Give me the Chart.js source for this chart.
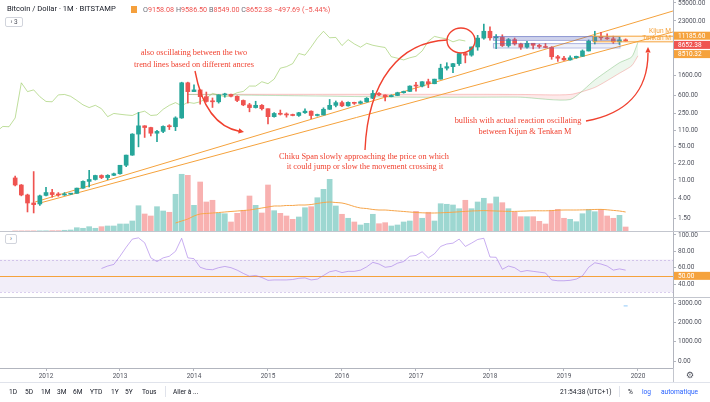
<!DOCTYPE html>
<html>
<head>
<meta charset="utf-8">
<title>Bitcoin / Dollar 1M</title>
<script src="https://cdn.jsdelivr.net/npm/chart.js@4.4.1/dist/chart.umd.min.js"></script>
<style>
  html, body { margin: 0; padding: 0; background: #fff; }
  body { position: relative; width: 710px; height: 402px; overflow: hidden; font-family: Roboto, sans-serif; color: #131722; }
  canvas { position: absolute; left: 0; }
  #price { top: 0; }
  #rsi { top: 232px; }
  #extra { top: 298px; }
  .abs { position: absolute; white-space: nowrap; line-height: 1; }
  .rule { position: absolute; background: #c3c6ce; }
  .tb { position: absolute; top: 388px; font-size: 6.6px; color: #131722; white-space: nowrap; }
  .blue { color: #2962ff; }
  .btn { position: absolute; border: 1px solid #d1d4dc; border-radius: 2px; font-size: 6.5px; color: #50535e; text-align: center; line-height: 8px; background: #fff; }
</style>
</head>
<body>
<canvas id="price" width="710" height="231"></canvas>
<canvas id="rsi" width="710" height="65"></canvas>
<canvas id="extra" width="710" height="84"></canvas>

<div class="rule" style="left:0;top:231px;width:710px;height:1px"></div>
<div class="rule" style="left:0;top:297px;width:710px;height:1px"></div>
<div class="rule" style="left:673px;top:368px;width:1px;height:14px"></div>
<div class="rule" style="left:0;top:382px;width:710px;height:1px;background:#e0e3eb"></div>

<div class="abs" style="left:7px;top:5px;font-size:7.6px;color:#131722">Bitcoin / Dollar · 1M · BITSTAMP</div>
<div class="abs" style="left:131px;top:6px;width:6px;height:7px;background:#f5a03c"></div>
<div class="abs" style="left:143px;top:5.5px;font-size:7.2px;color:#ef5350"><span style="color:#6b6e78">O</span>9158.08 <span style="color:#6b6e78">H</span>9586.50 <span style="color:#6b6e78">B</span>8549.00 <span style="color:#6b6e78">C</span>8652.38 −497.69 (−5.44%)</div>
<div class="btn" style="left:5px;top:17px;width:16px;height:8px">› 3</div>
<div class="btn" style="left:5px;top:234px;width:10px;height:8px">›</div>

<div class="tb" style="left:9px">1D</div>
<div class="tb" style="left:25px">5D</div>
<div class="tb" style="left:41px">1M</div>
<div class="tb" style="left:57px">3M</div>
<div class="tb" style="left:73px">6M</div>
<div class="tb" style="left:90px">YTD</div>
<div class="tb" style="left:111px">1Y</div>
<div class="tb" style="left:125px">5Y</div>
<div class="tb" style="left:142px">Tous</div>
<div class="rule" style="left:165px;top:386px;width:1px;height:11px;background:#e0e3eb"></div>
<div class="tb" style="left:173px">Aller à ...</div>
<div class="tb" style="left:560px">21:54:38 (UTC+1)</div>
<div class="rule" style="left:619px;top:386px;width:1px;height:11px;background:#e0e3eb"></div>
<div class="tb" style="left:628px">%</div>
<div class="tb blue" style="left:642px">log</div>
<div class="tb blue" style="left:661px">automatique</div>
<div class="abs" style="left:686px;top:371px;font-size:9px;color:#50535e;font-family:'DejaVu Sans'">⚙</div>

<script>
Chart.defaults.font.family = 'Roboto, sans-serif';
Chart.defaults.animation = false;

// monthly candles, BITSTAMP BTCUSD
const months = [
  '2011-08','2011-09','2011-10','2011-11','2011-12',
  '2012-01','2012-02','2012-03','2012-04','2012-05','2012-06','2012-07','2012-08','2012-09','2012-10','2012-11','2012-12',
  '2013-01','2013-02','2013-03','2013-04','2013-05','2013-06','2013-07','2013-08','2013-09','2013-10','2013-11','2013-12',
  '2014-01','2014-02','2014-03','2014-04','2014-05','2014-06','2014-07','2014-08','2014-09','2014-10','2014-11','2014-12',
  '2015-01','2015-02','2015-03','2015-04','2015-05','2015-06','2015-07','2015-08','2015-09','2015-10','2015-11','2015-12',
  '2016-01','2016-02','2016-03','2016-04','2016-05','2016-06','2016-07','2016-08','2016-09','2016-10','2016-11','2016-12',
  '2017-01','2017-02','2017-03','2017-04','2017-05','2017-06','2017-07','2017-08','2017-09','2017-10','2017-11','2017-12',
  '2018-01','2018-02','2018-03','2018-04','2018-05','2018-06','2018-07','2018-08','2018-09','2018-10','2018-11','2018-12',
  '2019-01','2019-02','2019-03','2019-04','2019-05','2019-06','2019-07','2019-08','2019-09','2019-10','2019-11'
];
const openP = [
  11.0, 7.8, 4.8, 3.25, 3.1,
  4.7, 5.4, 4.9, 4.8, 5.0, 5.2, 6.7, 9.3, 10.2, 12.4, 11.2, 12.5,
  13.5, 20.4, 33.4, 93, 139, 128, 97, 106, 135, 133, 204, 1130,
  735, 800, 575, 455, 448, 627, 640, 585, 478, 386, 338, 378,
  320, 217, 254, 244, 236, 230, 263, 284, 230, 236, 311, 377,
  430, 368, 437, 416, 448, 531, 673, 624, 574, 608, 698, 742,
  966, 963, 1190, 1080, 1350, 2300, 2480, 2870, 4700, 4340, 6460, 9940,
  13880, 10100, 10300, 6925, 9245, 7495, 6390, 7730, 7020, 6620, 6300, 4020,
  3740, 3440, 3820, 4105, 5320, 8560, 10800, 10080, 9600, 8300, 9158.08
];
const highP = [
  12.0, 8.0, 5.0, 15.0, 4.8,
  7.0, 6.3, 5.4, 5.4, 5.2, 6.7, 9.5, 16.0, 12.6, 12.8, 12.9, 13.9,
  20.4, 33.4, 95, 266, 140, 130, 111, 139, 147, 216, 1163, 1165,
  1020, 800, 720, 540, 630, 680, 650, 600, 490, 415, 460, 392,
  320, 265, 300, 261, 246, 268, 318, 288, 246, 334, 502, 466,
  462, 446, 440, 468, 550, 778, 704, 628, 630, 715, 755, 975,
  1150, 1199, 1350, 1350, 2790, 3000, 2930, 4760, 4980, 6470, 11400, 19666,
  17170, 11800, 11700, 9760, 9990, 7770, 8500, 7760, 7400, 7680, 6580, 4300,
  4090, 4200, 4140, 5610, 9090, 13880, 13200, 12300, 10950, 10370, 9586.5
];
const lowP = [
  7.5, 4.6, 2.1, 2.0, 2.9,
  4.6, 4.3, 4.5, 4.7, 4.9, 5.2, 6.6, 7.1, 9.9, 10.6, 10.1, 12.3,
  13.2, 19.1, 33.0, 50, 79, 85, 64, 100, 116, 110, 200, 420,
  735, 400, 440, 340, 420, 560, 565, 450, 370, 275, 330, 300,
  152, 212, 235, 212, 226, 220, 254, 196, 224, 236, 308, 350,
  355, 362, 394, 412, 440, 520, 607, 470, 570, 603, 681, 737,
  750, 920, 890, 1075, 1350, 2100, 1840, 2620, 2980, 4110, 5500, 9400,
  9000, 5920, 6600, 6430, 7060, 5750, 6070, 5880, 6100, 6200, 3550, 3200,
  3350, 3390, 3720, 4080, 5300, 7480, 9110, 9320, 7710, 7300, 8549
];
const closeP = [
  7.8, 4.8, 3.25, 3.0, 4.6,
  5.4, 4.9, 4.8, 5.0, 5.2, 6.7, 9.3, 10.2, 12.4, 11.2, 12.5, 13.5,
  20.4, 33.4, 93, 139, 128, 97, 106, 135, 133, 204, 1130, 735,
  800, 575, 455, 448, 627, 640, 585, 478, 386, 338, 378, 320,
  217, 254, 244, 236, 230, 263, 284, 230, 236, 311, 377, 430,
  368, 437, 416, 448, 531, 673, 624, 574, 608, 698, 742, 963,
  963, 1190, 1080, 1350, 2300, 2480, 2870, 4700, 4340, 6460, 9940, 13880,
  10100, 10300, 6925, 9245, 7495, 6390, 7730, 7020, 6620, 6300, 4020, 3740,
  3440, 3820, 4105, 5320, 8560, 10800, 10080, 9600, 8300, 9150, 8652.38
];
// volume, thousand BTC
const volume = [
  2, 3, 3, 4, 4,
  5, 8, 8, 18, 25, 82, 68, 108, 68, 108, 125, 125,
  175, 175, 250, 632, 425, 375, 608, 500, 468, 918, 1418, 1392,
  642, 1225, 725, 768, 442, 432, 225, 442, 518, 875, 642, 450,
  1150, 508, 442, 375, 292, 350, 582, 608, 832, 1042, 1292, 625,
  418, 318, 225, 150, 192, 418, 182, 208, 125, 150, 225, 250,
  492, 318, 468, 250, 682, 668, 650, 558, 768, 558, 725, 818,
  682, 850, 708, 558, 475, 358, 358, 358, 242, 175, 518, 542,
  318, 292, 232, 432, 542, 482, 542, 375, 318, 392, 100
];
const volMaStart = '2013-10';
const volMa = [
  200, 250, 300,
  375, 425, 438, 450, 462, 475, 488, 500, 512, 525, 550, 575,
  600, 625, 625, 638, 638, 650, 650, 662, 688, 712, 725, 712,
  700, 662, 612, 575, 562, 538, 525, 525, 512, 500, 488, 475,
  462, 455, 450, 450, 455, 462, 470, 480, 490, 500, 505, 510,
  505, 500, 495, 490, 490, 495, 500, 505, 505, 505, 510, 520,
  525, 525, 525, 528, 532, 538, 540, 530, 515, 500, 475
];
const rsiStart = '2012-10';
const rsi = [
  59, 62, 64,
  74, 85, 95, 96.5, 90.5, 72, 67.5, 72, 74, 80, 96, 72,
  71, 60.5, 58, 57.5, 60, 61.5, 60, 57, 53, 49.5, 50.5, 48,
  44.5, 45, 45, 45, 45.5, 47, 47.5, 45, 46, 50.5, 55, 56.5,
  54, 55.5, 55.5, 57, 61, 66.5, 64.5, 60.5, 61.5, 65.5, 67.5, 74,
  75, 79.5, 72, 77, 86, 89, 90, 95, 86, 90, 94.5, 96,
  73, 72.7, 58, 62, 60, 55, 56.5, 55.5, 54.5, 53.5, 45, 44,
  44, 44.5, 46, 50, 60.5, 66, 64.5, 62, 57, 58.5, 57
];
const cloudMonths = ['2013-12','2015-06','2016-12','2017-12','2018-06','2019-02','2019-06','2019-10','2019-12','2020-01'];
const senkouA = [640, 600, 560, 560, 560, 500, 1300, 3000, 4000, 8200];
const senkouB = [645, 645, 645, 645, 640, 640, 900, 1800, 2600, 4200];
const chikouShift = 26;
const extraMonths = ['2019-11'];
const extraValues = [2850];

const priceTicks = [55000, 23000, 1600, 600, 250, 110, 50, 22, 10, 4, 1.5];
const rsiTicks = [100, 80, 60, 40];
const extraTicks = [3000, 2000, 1000, 0];
const yearTicks = [2012, 2013, 2014, 2015, 2016, 2017, 2018, 2019, 2020];

// drawings on the chart (decimal years / prices)
const trendLines = [
  { from: [2011.852, 3.41], to: [2020.473, 37200] },
  { from: [2011.919, 3.25], to: [2020.473, 13400] }
];
const kijunM = 11185.60, tenkanM = 8510.32, lastClose = 8652.38;

const UP = '#26a69a', DN = '#ef5350', ORANGE = '#f5a23c', NOTE = '#f0412f';
const mIdx = s => { const [yy, mm] = s.split('-').map(Number); return (yy - 2012) * 12 + (mm - 1); };
const yrIdx = yr => (yr - 2012) * 12;
const xs = months.map(mIdx);
const isUp = closeP.map((c, i) => c >= openP[i]);
const X_MIN = -7.46, X_MAX = 101.68;

const axisGrey = '#b2b5be', tickText = '#50535e';
function rightAxis(extra) {
  return Object.assign({
    position: 'right',
    bounds: 'data',
    afterFit: s => { s.width = 37; s.paddingTop = 0; s.paddingBottom = 0; },
    grid: { drawOnChartArea: false, tickLength: 3, color: axisGrey },
    border: { color: axisGrey },
    ticks: { font: { size: 6.5 }, color: tickText, padding: 2, autoSkip: false, callback: v => Number(v).toFixed(2) }
  }, extra);
}
function xAxis(display) {
  return {
    type: 'linear', min: X_MIN, max: X_MAX, display: display, bounds: 'data', offset: false,
    afterFit: s => { s.height = display ? 14 : 0; s.paddingLeft = 0; s.paddingRight = 0; },
    afterBuildTicks: s => { s.ticks = yearTicks.map(y => ({ value: yrIdx(y) })); },
    grid: { drawOnChartArea: false, tickLength: 3, color: axisGrey, offset: false },
    border: { color: axisGrey },
    ticks: { font: { size: 6.5 }, color: tickText, padding: 1, autoSkip: false, maxRotation: 0, callback: v => String(2012 + v / 12) }
  };
}
const baseOptions = {
  responsive: false, devicePixelRatio: 1, animation: false,
  layout: { padding: 0, autoPadding: false },
  plugins: { legend: { display: false }, tooltip: { enabled: false } }
};

function tag(ctx, area, yPix, text, bg) {
  ctx.fillStyle = bg;
  ctx.fillRect(area.right + 1, yPix - 4, 36, 8);
  ctx.fillStyle = '#fff';
  ctx.font = '6.5px Roboto';
  ctx.textAlign = 'left';
  ctx.textBaseline = 'middle';
  ctx.fillText(text, area.right + 5, yPix + 0.5);
}
function arrowHead(ctx, x, y, ang, size) {
  ctx.beginPath();
  ctx.moveTo(x, y);
  ctx.lineTo(x - size * Math.cos(ang - 0.45), y - size * Math.sin(ang - 0.45));
  ctx.lineTo(x - size * Math.cos(ang + 0.45), y - size * Math.sin(ang + 0.45));
  ctx.closePath();
  ctx.fill();
}

const boxes = [
  { from: 2018.04, to: 2019.75, lo: 9100, hi: 11000, stroke: 'rgba(92,107,192,0.55)', fill: 'rgba(92,107,192,0.30)' },
  { from: 2018.04, to: 2019.75, lo: 6300, hi: 7800, stroke: 'rgba(92,107,192,0.45)', fill: 'rgba(92,107,192,0.10)' },
  { from: 2019.39, to: 2020.473, lo: tenkanM, hi: kijunM, stroke: ORANGE, fill: 'rgba(245,162,60,0.10)' }
];
const notes = [
  { text: 'also oscillating between the two', x: 194, y: 53 },
  { text: 'trend lines based on different ancres', x: 194, y: 65 },
  { text: 'Chiku Span slowly approaching the price on which', x: 364, y: 157 },
  { text: 'it could jump or slow the movement crossing it', x: 365, y: 167 },
  { text: 'bullish with actual reaction oscillating', x: 518, y: 121 },
  { text: 'between Kijun & Tenkan M', x: 525, y: 132 }
];

const drawings = {
  id: 'drawings',
  afterDatasetsDraw(chart) {
    const { ctx, chartArea: a, scales: { x, y } } = chart;
    ctx.save();
    ctx.beginPath(); ctx.rect(a.left, a.top, a.right - a.left, a.bottom - a.top); ctx.clip();
    boxes.forEach(b => {
      const x0 = x.getPixelForValue(yrIdx(b.from)), x1 = x.getPixelForValue(yrIdx(b.to));
      const y0 = y.getPixelForValue(b.hi), y1 = y.getPixelForValue(b.lo);
      ctx.fillStyle = b.fill; ctx.fillRect(x0, y0, x1 - x0, y1 - y0);
      ctx.strokeStyle = b.stroke; ctx.lineWidth = 1; ctx.strokeRect(x0 + 0.5, y0 + 0.5, x1 - x0, y1 - y0);
    });
    ctx.font = '6.6px Roboto'; ctx.fillStyle = ORANGE; ctx.textAlign = 'right'; ctx.textBaseline = 'middle';
    ctx.fillText('Kijun M', a.right - 2, 31.5);
    ctx.fillText('Tenkan M', a.right - 2, 38);

    // red notes
    ctx.fillStyle = NOTE; ctx.strokeStyle = NOTE; ctx.lineWidth = 1.4;
    ctx.font = '8.3px "Liberation Serif", serif'; ctx.textAlign = 'center';
    notes.forEach(n => ctx.fillText(n.text, n.x, n.y));
    ctx.beginPath(); ctx.moveTo(195, 71); ctx.quadraticCurveTo(205, 125, 240, 131.5); ctx.stroke();
    arrowHead(ctx, 244, 132, 0.2, 6);
    ctx.beginPath(); ctx.moveTo(447, 40); ctx.bezierCurveTo(400, 42, 368, 80, 365, 150); ctx.stroke();
    ctx.beginPath(); ctx.ellipse(461, 40.5, 14, 12.5, 0, 0, Math.PI * 2); ctx.stroke();
    ctx.beginPath(); ctx.moveTo(586, 121); ctx.bezierCurveTo(625, 114, 648, 92, 648, 53); ctx.stroke();
    arrowHead(ctx, 648, 47, -Math.PI / 2, 6);
    ctx.restore();
  },
  afterDraw(chart) {
    const { ctx, chartArea: a, scales: { y } } = chart;
    const items = [[kijunM, ORANGE], [lastClose, DN], [tenkanM, ORANGE]];
    let prev = -100;
    items.forEach(([v, c]) => {
      let py = Math.max(y.getPixelForValue(v), prev + 9.2);
      tag(ctx, a, py, v.toFixed(2), c);
      prev = py;
    });
  }
};

new Chart(document.getElementById('price'), {
  type: 'bar',
  data: {
    datasets: [
      {
        label: 'Volume', yAxisID: 'yVol', order: 10, grouped: false, barThickness: 5,
        data: xs.map((x, i) => ({ x, y: volume[i] })),
        backgroundColor: isUp.map(u => u ? 'rgba(38,166,154,0.45)' : 'rgba(239,83,80,0.45)')
      },
      {
        type: 'line', label: 'Volume MA', yAxisID: 'yVol', order: 9,
        data: volMa.map((v, i) => ({ x: mIdx(volMaStart) + i, y: v })),
        borderColor: '#f6a54a', borderWidth: 1, pointRadius: 0, tension: 0.3
      },
      {
        type: 'line', label: 'Senkou A', yAxisID: 'y', order: 8,
        data: cloudMonths.map((m, i) => ({ x: mIdx(m), y: senkouA[i] })),
        borderColor: 'rgba(76,175,80,0.35)', borderWidth: 1, pointRadius: 0, tension: 0.2
      },
      {
        type: 'line', label: 'Senkou B', yAxisID: 'y', order: 8,
        data: cloudMonths.map((m, i) => ({ x: mIdx(m), y: senkouB[i] })),
        borderColor: 'rgba(239,83,80,0.30)', borderWidth: 1, pointRadius: 0, tension: 0.2,
        fill: { target: '-1', above: 'rgba(239,83,80,0.12)', below: 'rgba(76,175,80,0.10)' }
      },
      {
        type: 'line', label: 'Chikou', yAxisID: 'y', order: 6,
        data: xs.map((x, i) => ({ x: x - chikouShift, y: closeP[i] })),
        borderColor: 'rgba(139,195,74,0.55)', borderWidth: 1, pointRadius: 0
      },
      ...trendLines.map((t, k) => ({
        type: 'line', label: 'Trend ' + (k + 1), yAxisID: 'y', order: 3,
        data: [{ x: yrIdx(t.from[0]), y: t.from[1] }, { x: yrIdx(t.to[0]), y: t.to[1] }],
        borderColor: ORANGE, borderWidth: 1, pointRadius: 0
      })),
      {
        label: 'Wicks', yAxisID: 'y', order: 2, grouped: false, barThickness: 1, minBarLength: 1,
        data: xs.map((x, i) => ({ x, y: [lowP[i], highP[i]] })),
        backgroundColor: isUp.map(u => u ? UP : DN)
      },
      {
        label: 'Bodies', yAxisID: 'y', order: 1, grouped: false, barThickness: 4, minBarLength: 1,
        data: xs.map((x, i) => ({ x, y: [openP[i], closeP[i]] })),
        backgroundColor: isUp.map(u => u ? UP : DN)
      }
    ]
  },
  options: Object.assign({}, baseOptions, {
    scales: {
      x: xAxis(false),
      y: rightAxis({
        type: 'logarithmic', min: 0.831, max: 63590,
        afterBuildTicks: s => { s.ticks = priceTicks.map(v => ({ value: v })); }
      }),
      yVol: { type: 'linear', display: false, min: 0, max: 5775 }
    }
  }),
  plugins: [drawings]
});

const rsiBand = {
  id: 'rsiBand',
  beforeDatasetsDraw(chart) {
    const { ctx, chartArea: a, scales: { y } } = chart;
    const y70 = y.getPixelForValue(70), y30 = y.getPixelForValue(30);
    ctx.save();
    ctx.fillStyle = 'rgba(126,87,194,0.10)';
    ctx.fillRect(a.left, y70, a.right - a.left, y30 - y70);
    ctx.strokeStyle = 'rgba(126,87,194,0.28)'; ctx.setLineDash([2, 2]); ctx.lineWidth = 1;
    [y70, y30].forEach(p => { ctx.beginPath(); ctx.moveTo(a.left, Math.round(p) + 0.5); ctx.lineTo(a.right, Math.round(p) + 0.5); ctx.stroke(); });
    ctx.setLineDash([]);
    const y50 = Math.round(y.getPixelForValue(50)) + 0.5;
    ctx.strokeStyle = ORANGE; ctx.beginPath(); ctx.moveTo(a.left, y50); ctx.lineTo(a.right, y50); ctx.stroke();
    ctx.restore();
  },
  afterDraw(chart) {
    tag(chart.ctx, chart.chartArea, chart.scales.y.getPixelForValue(50), '50.00', ORANGE);
  }
};

new Chart(document.getElementById('rsi'), {
  type: 'line',
  data: {
    datasets: [{
      label: 'RSI',
      data: rsi.map((v, i) => ({ x: mIdx(rsiStart) + i, y: v })),
      borderColor: 'rgba(156,110,230,0.55)', borderWidth: 1, pointRadius: 0
    }]
  },
  options: Object.assign({}, baseOptions, {
    scales: {
      x: xAxis(false),
      y: rightAxis({
        type: 'linear', min: 24.11, max: 103.67,
        afterBuildTicks: s => { s.ticks = rsiTicks.map(v => ({ value: v })); }
      })
    }
  }),
  plugins: [rsiBand]
});

new Chart(document.getElementById('extra'), {
  type: 'line',
  data: {
    datasets: [{
      label: 'Indicator',
      data: extraMonths.map((m, i) => ({ x: mIdx(m), y: extraValues[i] })),
      showLine: false, pointStyle: 'line', pointRadius: 2, borderColor: '#90caf9', borderWidth: 1
    }]
  },
  options: Object.assign({}, baseOptions, {
    scales: {
      x: xAxis(true),
      y: rightAxis({
        type: 'linear', min: -362, max: 3259,
        afterBuildTicks: s => { s.ticks = extraTicks.map(v => ({ value: v })); }
      })
    }
  })
});
</script>
</body>
</html>
